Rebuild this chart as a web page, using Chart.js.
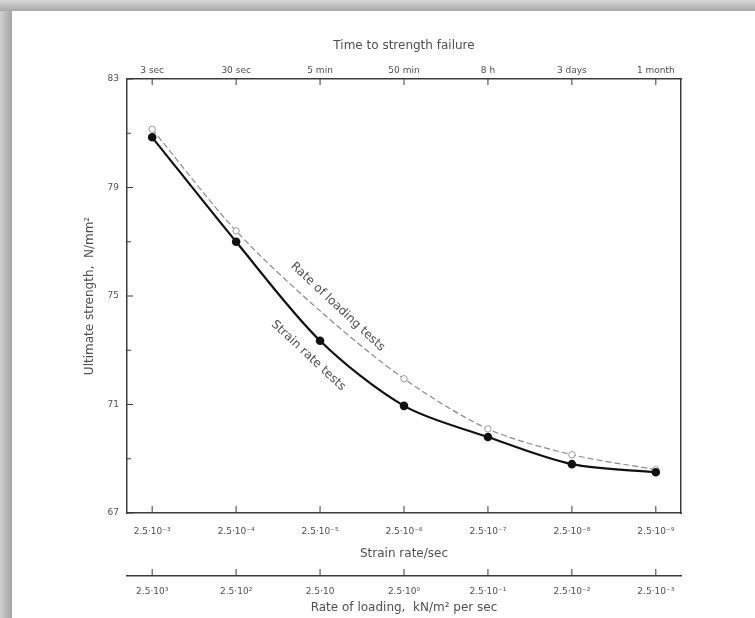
<!DOCTYPE html>
<html>
<head>
<meta charset="utf-8">
<script src="https://cdn.jsdelivr.net/npm/chart.js@4.4.1/dist/chart.umd.min.js"></script>
<style>
    html, body { margin: 0; padding: 0; }
    body {
        width: 755px; height: 618px; overflow: hidden;
        background:
            linear-gradient(to bottom, #d6d6d6, #a9a9a9) top left / 100% 11px no-repeat,
            linear-gradient(to right, #d0d0d0, #a4a4a4) top left / 12px 100% no-repeat,
            #ffffff;
    }
    #wrap { position: absolute; left: 0; top: 0; width: 755px; height: 618px; }
    #strength-chart { filter: blur(0.45px); }
</style>
</head>
<body>
<div id="wrap"><canvas id="strength-chart"></canvas></div>
<script>
// Ultimate strength vs strain rate / rate of loading (Chart.js)

const strainLabels = ['2.5·10⁻³', '2.5·10⁻⁴', '2.5·10⁻⁵', '2.5·10⁻⁶', '2.5·10⁻⁷', '2.5·10⁻⁸', '2.5·10⁻⁹'];
const timeLabels = ['3 sec', '30 sec', '5 min', '50 min', '8 h', '3 days', '1 month'];
const loadingLabels = ['2.5·10³', '2.5·10²', '2.5·10', '2.5·10⁰', '2.5·10⁻¹', '2.5·10⁻²', '2.5·10⁻³'];

// N/mm²
const strainRateTests = [80.85, 77.0, 73.35, 70.95, 69.8, 68.8, 68.5];
const loadingRateTests = [81.15, 77.4, 74.45, 71.95, 70.1, 69.15, 68.6];

const yTicks = [67, 69, 71, 73, 75, 77, 79, 81, 83];
const yLabelled = [67, 71, 75, 79, 83];

const INK = '#3c3c3c';
const TEXT = '#4f4f4f';
const X_MIN = -0.3, X_MAX = 6.3;

const idx = strainLabels.map((_, i) => i);
const pts = vals => vals.map((v, i) => ({ x: idx[i], y: v }));

// small inward tick marks + labels written along the curves
const sketchMarks = {
    id: 'sketchMarks',
    afterDraw(chart) {
        const { ctx, chartArea: a, scales } = chart;
        ctx.save();
        ctx.strokeStyle = INK;
        ctx.lineWidth = 1;
        ctx.beginPath();
        scales.x.ticks.forEach(t => {
            const px = scales.x.getPixelForValue(t.value);
            ctx.moveTo(px, a.bottom); ctx.lineTo(px, a.bottom - 7);
        });
        scales.x2.ticks.forEach(t => {
            const px = scales.x2.getPixelForValue(t.value);
            ctx.moveTo(px, a.top); ctx.lineTo(px, a.top + 6);
        });
        scales.xLoad.ticks.forEach(t => {
            const px = scales.xLoad.getPixelForValue(t.value);
            ctx.moveTo(px, scales.xLoad.top); ctx.lineTo(px, scales.xLoad.top - 7);
        });
        scales.y.ticks.forEach(t => {
            const py = scales.y.getPixelForValue(t.value);
            const len = yLabelled.includes(t.value) ? 6 : 4;
            ctx.moveTo(a.left, py); ctx.lineTo(a.left + len, py);
        });
        ctx.stroke();

        ctx.fillStyle = TEXT;
        ctx.font = '12px "DejaVu Sans", sans-serif';
        ctx.textAlign = 'center';
        ctx.textBaseline = 'middle';
        [['Rate of loading tests', 2.21, 74.6], ['Strain rate tests', 1.86, 72.8]].forEach(([txt, xv, yv]) => {
            ctx.save();
            ctx.translate(scales.x.getPixelForValue(xv), scales.y.getPixelForValue(yv));
            ctx.rotate(43 * Math.PI / 180);
            ctx.fillText(txt, 0, 0);
            ctx.restore();
        });
        ctx.restore();
    }
};

Chart.defaults.font.family = '"DejaVu Sans", sans-serif';
Chart.defaults.color = TEXT;

const setTicks = s => { s.ticks = idx.map(v => ({ value: v })); };
const tickFont = { size: 9 };
const titleFont = { size: 12 };

new Chart(document.getElementById('strength-chart'), {
    type: 'line',
    data: {
        datasets: [{
            label: 'Strain rate tests',
            data: pts(strainRateTests),
            borderColor: '#111',
            borderWidth: 2.2,
            pointRadius: 3.2,
            pointBackgroundColor: '#111',
            pointBorderColor: '#111',
            tension: 0.3,
            fill: false
        }, {
            label: 'Rate of loading tests',
            data: pts(loadingRateTests),
            borderColor: '#8a8a8a',
            borderWidth: 1.2,
            borderDash: [6, 3],
            pointRadius: ctx => ctx.dataIndex === 2 ? 0 : 3.2,
            pointBackgroundColor: '#fff',
            pointBorderColor: '#999',
            pointBorderWidth: 1,
            tension: 0.3,
            fill: false
        }]
    },
    options: {
        responsive: true,
        maintainAspectRatio: false,
        animation: false,
        layout: { padding: { top: 31, right: 73, bottom: 0, left: 76 } },
        plugins: { legend: { display: false }, tooltip: { enabled: false } },
        scales: {
            x: {
                type: 'linear', position: 'bottom', min: X_MIN, max: X_MAX, weight: 0,
                afterBuildTicks: setTicks,
                afterFit: s => { s.height = 63; },
                grid: { display: false, drawTicks: false },
                border: { display: true, color: INK, width: 1.5 },
                ticks: { font: tickFont, padding: 13, maxRotation: 0, autoSkip: false,
                         callback: v => strainLabels[v] },
                title: { display: true, text: 'Strain rate/sec', font: titleFont, padding: { top: 0, bottom: 15 } }
            },
            xLoad: {
                type: 'linear', position: 'bottom', min: X_MIN, max: X_MAX, weight: 1,
                afterBuildTicks: setTicks,
                afterFit: s => { s.height = 42; },
                grid: { display: false, drawTicks: false },
                border: { display: true, color: INK, width: 1.5 },
                ticks: { font: tickFont, padding: 10, maxRotation: 0, autoSkip: false,
                         callback: v => loadingLabels[v] },
                title: { display: true, text: 'Rate of loading,  kN/m² per sec', font: titleFont, padding: { top: 0, bottom: 3 } }
            },
            x2: {
                type: 'linear', position: 'top', min: X_MIN, max: X_MAX,
                afterBuildTicks: setTicks,
                afterFit: s => { s.height = 48; },
                grid: { display: false, drawTicks: false },
                border: { display: true, color: INK, width: 1.5 },
                ticks: { font: tickFont, padding: 3, maxRotation: 0, autoSkip: false,
                         callback: v => timeLabels[v] },
                title: { display: true, text: 'Time to strength failure', font: titleFont, padding: { top: 8, bottom: 0 } }
            },
            y: {
                type: 'linear', position: 'left', min: 67, max: 83,
                afterBuildTicks: s => { s.ticks = yTicks.map(v => ({ value: v })); },
                afterFit: s => { s.width = 51; },
                grid: { display: false, drawTicks: false },
                border: { display: true, color: INK, width: 1.5 },
                ticks: { font: tickFont, padding: 8,
                         callback: v => yLabelled.includes(v) ? String(v) : '' },
                title: { display: true, text: 'Ultimate strength,  N/mm²', font: titleFont, padding: { top: 7, bottom: 0 } }
            },
            yR: {
                type: 'linear', position: 'right', min: 67, max: 83,
                afterFit: s => { s.width = 1; },
                grid: { display: false, drawTicks: false },
                border: { display: true, color: INK, width: 1.5 },
                ticks: { display: false }
            }
        }
    },
    plugins: [sketchMarks]
});
</script>
</body>
</html>
